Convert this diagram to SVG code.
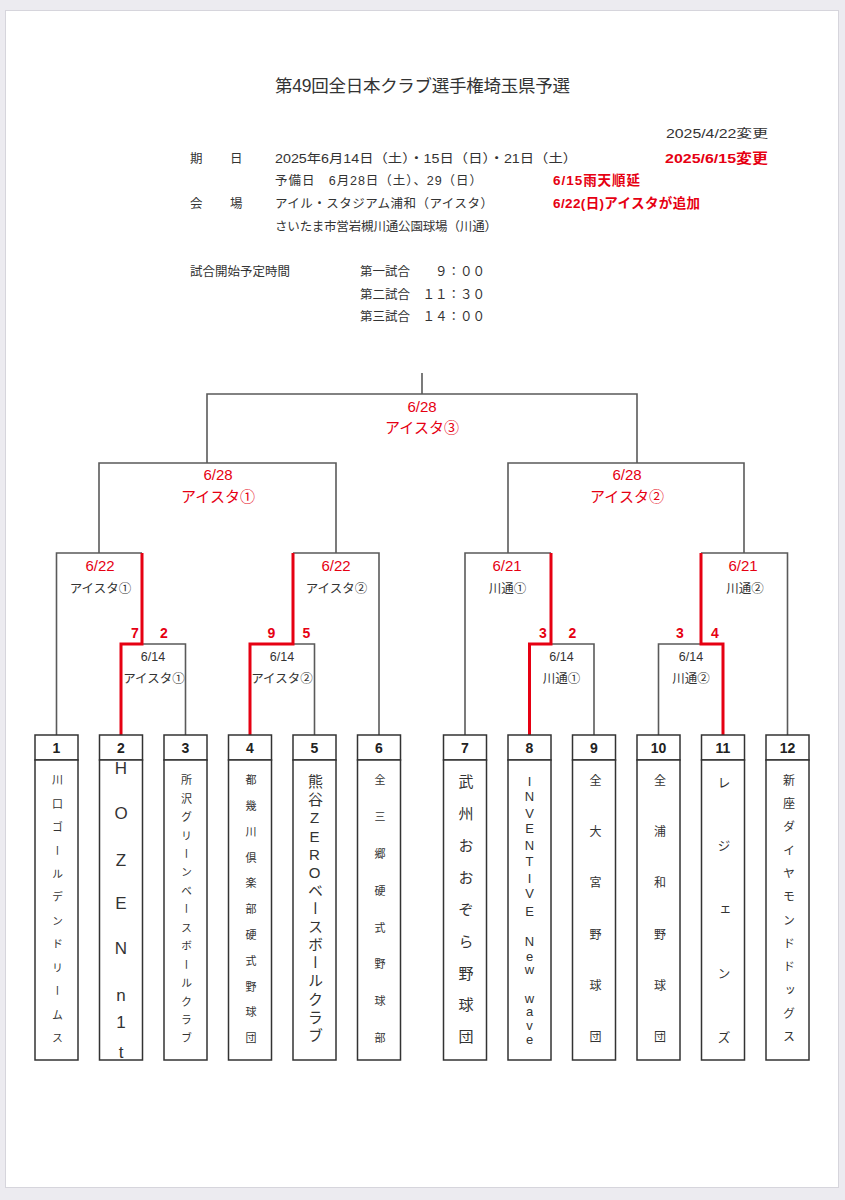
<svg xmlns="http://www.w3.org/2000/svg" width="845" height="1200" viewBox="0 0 845 1200">
<defs>
<style>
text{font-family:"Liberation Sans","Noto Sans CJK JP",sans-serif;fill:#333}
.t{font-size:12.5px}
.r{fill:#e60012;font-weight:bold;font-size:13.5px}
.rl{fill:#e60012;font-size:15px;text-anchor:middle}
.g{font-size:12.5px;text-anchor:middle;fill:#333}
.n{fill:#e60012;font-weight:bold;font-size:14px;text-anchor:middle}
.bl{fill:none;stroke:#5a5a5a;stroke-width:1.6}
.rd{fill:none;stroke:#e60012;stroke-width:3}
.box{fill:#fff;stroke:#333;stroke-width:1.5}
.num{font-size:14px;font-weight:bold;text-anchor:middle;fill:#222}
.nm{writing-mode:vertical-rl;text-orientation:upright;text-anchor:middle;fill:#333}
</style>
</defs>
<rect x="0" y="0" width="845" height="1200" fill="#ecebf0"/>
<rect x="5.5" y="10.5" width="833" height="1177" fill="#fff" stroke="#d6d5dc" stroke-width="1"/>

<g id="header">
<text x="422.5" y="92" font-size="17.5" text-anchor="middle" fill="#222" textLength="295">第49回全日本クラブ選手権埼玉県予選</text>
<text class="t" x="666" y="138" font-size="13.5" textLength="102" lengthAdjust="spacingAndGlyphs">2025/4/22変更</text>
<text class="t" x="190" y="163">期</text><text class="t" x="230" y="163">日</text>
<text class="t" x="275" y="163" font-size="13" textLength="302" lengthAdjust="spacingAndGlyphs">2025年6月14日（土）・15日（日）・21日（土）</text>
<text class="r" x="665" y="163" textLength="103" lengthAdjust="spacingAndGlyphs">2025/6/15変更</text>
<text class="t" x="275" y="185" textLength="207">予備日　6月28日（土）、29（日）</text>
<text class="r" x="553" y="185" textLength="87">6/15雨天順延</text>
<text class="t" x="190" y="208">会</text><text class="t" x="230" y="208">場</text>
<text class="t" x="275" y="208" textLength="218">アイル・スタジアム浦和（アイスタ）</text>
<text class="r" x="553" y="208" textLength="147">6/22(日)アイスタが追加</text>
<text class="t" x="275" y="231" textLength="222">さいたま市営岩槻川通公園球場（川通）</text>
<text class="t" x="190" y="276" textLength="100">試合開始予定時間</text>
<text class="t" x="360" y="276" textLength="125">第一試合　　９：００</text>
<text class="t" x="360" y="299" textLength="125">第二試合　１１：３０</text>
<text class="t" x="360" y="321" textLength="125">第三試合　１４：００</text>
</g>

<g id="connectors">
<path class="bl" d="M422,373V394M207,463V394H637V463"/>
<path class="bl" d="M99,553V463H336V553M508,553V463H744V553"/>
<path class="bl" d="M56.5,735V553H142M293,553H379V735"/>
<path class="bl" d="M142,644H185.5V735M293,644H314.5V735"/>
<path class="bl" d="M465,735V553H551M701,553H787.5V735"/>
<path class="bl" d="M551,644H594V735M701,644H658.5V735"/>
<path class="rd" d="M142,553V644H121V735"/>
<path class="rd" d="M293,553V644H250V735"/>
<path class="rd" d="M551,553V644H529.5V735"/>
<path class="rd" d="M701,553V644H723V735"/>
</g>

<g id="labels">
<text class="rl" x="422" y="411.5">6/28</text>
<text class="rl" x="422" y="433" font-size="13.5">アイスタ③</text>
<text class="rl" x="218" y="479.5">6/28</text>
<text class="rl" x="218" y="502" font-size="13.5">アイスタ①</text>
<text class="rl" x="627" y="479.5">6/28</text>
<text class="rl" x="627" y="502" font-size="13.5">アイスタ②</text>

<text class="rl" x="100" y="570.5">6/22</text>
<text class="g" x="100.5" y="592.5">アイスタ①</text>
<text class="rl" x="336" y="570.5">6/22</text>
<text class="g" x="336.5" y="592.5">アイスタ②</text>
<text class="rl" x="507" y="570.5">6/21</text>
<text class="g" x="507.5" y="592.5">川通①</text>
<text class="rl" x="743" y="570.5">6/21</text>
<text class="g" x="745" y="592.5">川通②</text>

<text class="n" x="135" y="638">7</text><text class="n" x="164" y="638">2</text>
<text class="n" x="271.5" y="638">9</text><text class="n" x="306.5" y="638">5</text>
<text class="n" x="543" y="638">3</text><text class="n" x="572.5" y="638">2</text>
<text class="n" x="680" y="638">3</text><text class="n" x="715" y="638">4</text>

<text class="g" x="153" y="660.5">6/14</text><text class="g" x="154" y="682.5">アイスタ①</text>
<text class="g" x="282" y="660.5">6/14</text><text class="g" x="282" y="682.5">アイスタ②</text>
<text class="g" x="561.5" y="660.5">6/14</text><text class="g" x="561.5" y="682.5">川通①</text>
<text class="g" x="691" y="660.5">6/14</text><text class="g" x="691" y="682.5">川通②</text>
</g>

<g id="team1"><rect class="box" x="35" y="735" width="43" height="25"/><rect class="box" x="35" y="760" width="43" height="300"/><text class="num" x="56.5" y="752.5">1</text>
<text class="nm" font-size="11"><tspan x="56.5" y="780">川</tspan><tspan x="56.5" y="803.5">口</tspan><tspan x="56.5" y="826.9">ゴ</tspan><tspan x="56.5" y="850.4">ー</tspan><tspan x="56.5" y="873.8">ル</tspan><tspan x="56.5" y="897.3">デ</tspan><tspan x="56.5" y="920.7">ン</tspan><tspan x="56.5" y="944.2">ド</tspan><tspan x="56.5" y="967.6">リ</tspan><tspan x="56.5" y="991.1">ー</tspan><tspan x="56.5" y="1014.5">ム</tspan><tspan x="56.5" y="1038">ス</tspan></text></g>

<g id="team2"><rect class="box" x="99.5" y="735" width="43" height="25"/><rect class="box" x="99.5" y="760" width="43" height="300"/><text class="num" x="121" y="752.5">2</text>
<text class="nm" font-size="17"><tspan x="121" y="768">H</tspan><tspan x="121" y="813">O</tspan><tspan x="121" y="860">Z</tspan><tspan x="121" y="903">E</tspan><tspan x="121" y="948">N</tspan><tspan x="121" y="995">n</tspan><tspan x="121" y="1022">1</tspan><tspan x="121" y="1052">t</tspan></text></g>

<g id="team3"><rect class="box" x="164" y="735" width="43" height="25"/><rect class="box" x="164" y="760" width="43" height="300"/><text class="num" x="185.5" y="752.5">3</text>
<text class="nm" font-size="11"><tspan x="185.5" y="780">所</tspan><tspan x="185.5" y="798.5">沢</tspan><tspan x="185.5" y="816.9">グ</tspan><tspan x="185.5" y="835.4">リ</tspan><tspan x="185.5" y="853.8">ー</tspan><tspan x="185.5" y="872.3">ン</tspan><tspan x="185.5" y="890.7">ベ</tspan><tspan x="185.5" y="909.2">ー</tspan><tspan x="185.5" y="927.6">ス</tspan><tspan x="185.5" y="946.1">ボ</tspan><tspan x="185.5" y="964.5">ー</tspan><tspan x="185.5" y="983">ル</tspan><tspan x="185.5" y="1001.4">ク</tspan><tspan x="185.5" y="1019.9">ラ</tspan><tspan x="185.5" y="1038.3">ブ</tspan></text></g>

<g id="team4"><rect class="box" x="228.5" y="735" width="43" height="25"/><rect class="box" x="228.5" y="760" width="43" height="300"/><text class="num" x="250" y="752.5">4</text>
<text class="nm" font-size="11"><tspan x="250" y="780">都</tspan><tspan x="250" y="805.8">幾</tspan><tspan x="250" y="831.6">川</tspan><tspan x="250" y="857.4">倶</tspan><tspan x="250" y="883.2">楽</tspan><tspan x="250" y="909">部</tspan><tspan x="250" y="934.8">硬</tspan><tspan x="250" y="960.6">式</tspan><tspan x="250" y="986.4">野</tspan><tspan x="250" y="1012.2">球</tspan><tspan x="250" y="1038">団</tspan></text></g>

<g id="team5"><rect class="box" x="293" y="735" width="43" height="25"/><rect class="box" x="293" y="760" width="43" height="300"/><text class="num" x="314.5" y="752.5">5</text>
<text class="nm" font-size="15"><tspan x="314.5" y="781.7">熊</tspan><tspan x="314.5" y="799.8">谷</tspan><tspan x="314.5" y="817.9">Z</tspan><tspan x="314.5" y="836">E</tspan><tspan x="314.5" y="854.1">R</tspan><tspan x="314.5" y="872.2">O</tspan><tspan x="314.5" y="890.3">ベ</tspan><tspan x="314.5" y="908.4">ー</tspan><tspan x="314.5" y="926.5">ス</tspan><tspan x="314.5" y="944.6">ボ</tspan><tspan x="314.5" y="962.7">ー</tspan><tspan x="314.5" y="980.8">ル</tspan><tspan x="314.5" y="998.9">ク</tspan><tspan x="314.5" y="1017">ラ</tspan><tspan x="314.5" y="1035.1">ブ</tspan></text></g>

<g id="team6"><rect class="box" x="357.5" y="735" width="43" height="25"/><rect class="box" x="357.5" y="760" width="43" height="300"/><text class="num" x="379" y="752.5">6</text>
<text class="nm" font-size="11"><tspan x="379" y="780">全</tspan><tspan x="379" y="816.9">三</tspan><tspan x="379" y="853.7">郷</tspan><tspan x="379" y="890.6">硬</tspan><tspan x="379" y="927.4">式</tspan><tspan x="379" y="964.3">野</tspan><tspan x="379" y="1001.2">球</tspan><tspan x="379" y="1038">部</tspan></text></g>

<g id="team7"><rect class="box" x="443.5" y="735" width="43" height="25"/><rect class="box" x="443.5" y="760" width="43" height="300"/><text class="num" x="465" y="752.5">7</text>
<text class="nm" font-size="15"><tspan x="465" y="781.7">武</tspan><tspan x="465" y="813.6">州</tspan><tspan x="465" y="845.5">お</tspan><tspan x="465" y="877.3">お</tspan><tspan x="465" y="909.2">ぞ</tspan><tspan x="465" y="941.1">ら</tspan><tspan x="465" y="973">野</tspan><tspan x="465" y="1004.8">球</tspan><tspan x="465" y="1036.7">団</tspan></text></g>

<g id="team8"><rect class="box" x="508" y="735" width="43" height="25"/><rect class="box" x="508" y="760" width="43" height="300"/><text class="num" x="529.5" y="752.5">8</text>
<text class="nm" font-size="13"><tspan x="529.5" y="781.7">I</tspan><tspan x="529.5" y="796.7">N</tspan><tspan x="529.5" y="813.3">V</tspan><tspan x="529.5" y="828.3">E</tspan><tspan x="529.5" y="845">N</tspan><tspan x="529.5" y="861.7">T</tspan><tspan x="529.5" y="878.3">I</tspan><tspan x="529.5" y="893.3">V</tspan><tspan x="529.5" y="911.7">E</tspan><tspan x="529.5" y="941.7">N</tspan><tspan x="529.5" y="956">e</tspan><tspan x="529.5" y="969.3">w</tspan><tspan x="529.5" y="998.3">w</tspan><tspan x="529.5" y="1011.7">a</tspan><tspan x="529.5" y="1025">v</tspan><tspan x="529.5" y="1039.3">e</tspan></text></g>

<g id="team9"><rect class="box" x="572.5" y="735" width="43" height="25"/><rect class="box" x="572.5" y="760" width="43" height="300"/><text class="num" x="594" y="752.5">9</text>
<text class="nm" font-size="12"><tspan x="594" y="780">全</tspan><tspan x="594" y="831.3">大</tspan><tspan x="594" y="882.7">宮</tspan><tspan x="594" y="934">野</tspan><tspan x="594" y="985.4">球</tspan><tspan x="594" y="1036.7">団</tspan></text></g>

<g id="team10"><rect class="box" x="637" y="735" width="43" height="25"/><rect class="box" x="637" y="760" width="43" height="300"/><text class="num" x="658.5" y="752.5">10</text>
<text class="nm" font-size="12"><tspan x="658.5" y="780">全</tspan><tspan x="658.5" y="831.3">浦</tspan><tspan x="658.5" y="882.7">和</tspan><tspan x="658.5" y="934">野</tspan><tspan x="658.5" y="985.4">球</tspan><tspan x="658.5" y="1036.7">団</tspan></text></g>

<g id="team11"><rect class="box" x="701.5" y="735" width="43" height="25"/><rect class="box" x="701.5" y="760" width="43" height="300"/><text class="num" x="723" y="752.5">11</text>
<text class="nm" font-size="13"><tspan x="723" y="781.7">レ</tspan><tspan x="723" y="845.4">ジ</tspan><tspan x="723" y="909.2">ェ</tspan><tspan x="723" y="972.9">ン</tspan><tspan x="723" y="1036.7">ズ</tspan></text></g>

<g id="team12"><rect class="box" x="766" y="735" width="43" height="25"/><rect class="box" x="766" y="760" width="43" height="300"/><text class="num" x="787.5" y="752.5">12</text>
<text class="nm" font-size="12"><tspan x="787.5" y="780">新</tspan><tspan x="787.5" y="803.3">座</tspan><tspan x="787.5" y="826.7">ダ</tspan><tspan x="787.5" y="850">イ</tspan><tspan x="787.5" y="873.3">ヤ</tspan><tspan x="787.5" y="896.7">モ</tspan><tspan x="787.5" y="920">ン</tspan><tspan x="787.5" y="943.3">ド</tspan><tspan x="787.5" y="966.7">ド</tspan><tspan x="787.5" y="990">ッ</tspan><tspan x="787.5" y="1013.3">グ</tspan><tspan x="787.5" y="1036.7">ス</tspan></text></g>
</svg>
